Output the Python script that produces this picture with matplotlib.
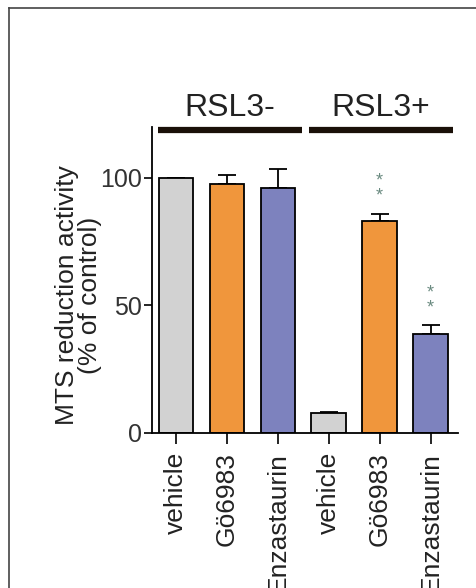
import matplotlib.pyplot as plt
from matplotlib.lines import Line2D

labels = ['vehicle', 'Gö6983', 'Enzastaurin', 'vehicle', 'Gö6983', 'Enzastaurin']
values = [100.0, 97.8, 96.0, 7.8, 83.2, 38.7]
errors = [0.0, 3.4, 7.4, 0.3, 2.8, 3.4]
colors = ['#d2d2d2', '#f0963c', '#7d82be', '#d2d2d2', '#f0963c', '#7d82be']
groups = ['RSL3-', 'RSL3+']
star_bars = [4, 5]

plt.rcParams['font.family'] = ['Liberation Sans', 'DejaVu Sans']

W, H = 476, 588
fig = plt.figure(figsize=(W / 100, H / 100), dpi=100)
ax = fig.add_axes([152 / W, (H - 432.7) / H, (458 - 152) / W, (432.7 - 127) / H])

x = list(range(len(values)))
ax.bar(x, values, width=0.675, color=colors, edgecolor='black', linewidth=1.3, zorder=2)
ax.errorbar(x, values, yerr=[[0] * len(errors), errors], fmt='none', ecolor='black',
            elinewidth=1.3, capsize=6.5, capthick=1.3, zorder=1)

ax.set_xlim(-0.47, 5.54)
ax.set_ylim(0, 120)
ax.set_yticks([0, 50, 100])
ax.set_xticks(x)
ax.set_xticklabels(labels, rotation=90, fontsize=19, color='#222222')
ax.tick_params(axis='y', labelsize=18, length=6, width=1.2, pad=1, labelcolor='#333333')
ax.tick_params(axis='x', length=8, width=1.2, pad=6)
ax.spines['top'].set_visible(False)
ax.spines['right'].set_visible(False)
ax.spines['left'].set_linewidth(1.3)
ax.spines['bottom'].set_linewidth(1.3)
ax.set_ylabel('MTS reduction activity\n(% of control)', fontsize=19, linespacing=0.9,
              color='#222222')
ax.yaxis.set_label_coords(-0.165, 0.45)

# group bars with labels
spans = [(-0.36, 2.47), (2.61, 5.44)]
for name, (a, b) in zip(groups, spans):
    ax.plot([a, b], [118.8, 118.8], color='#1a1008', linewidth=4.5, clip_on=False,
            solid_capstyle='butt')
    ax.text((a + b) / 2, 127.3, name, ha='center', va='center', fontsize=23,
            color='#222222', clip_on=False)

# significance stars
for i in star_bars:
    top = values[i] + errors[i]
    ax.text(i, top + 9.8, '*\n*', ha='center', va='center', fontsize=13,
            linespacing=0.8, color='#6a8a80')

# image frame (top and left edges)
fig.add_artist(Line2D([9 / W, 9 / W], [0, 1 - 8 / H], transform=fig.transFigure,
                      color='#444444', linewidth=1.2))
fig.add_artist(Line2D([9 / W, 1], [1 - 8 / H, 1 - 8 / H], transform=fig.transFigure,
                      color='#444444', linewidth=1.2))

fig.savefig('out.png', dpi=100)
